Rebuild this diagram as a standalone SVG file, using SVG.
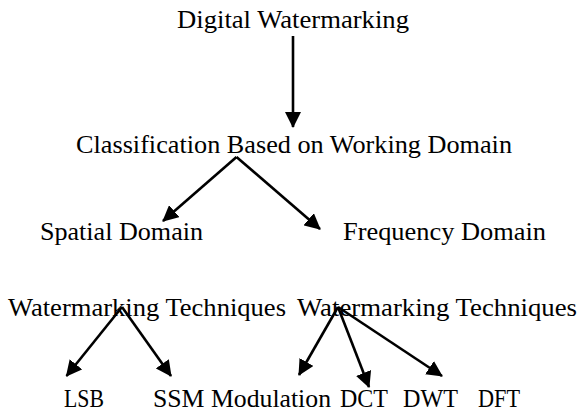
<svg xmlns="http://www.w3.org/2000/svg" width="580" height="414" viewBox="0 0 580 414">
<style>
text { font-family: "Liberation Serif", "Times New Roman", serif; font-size: 25px; fill: #000; }
.c { stroke: #000; stroke-width: 2.6; fill: none; marker-end: url(#ah); }
</style>
<defs>
<marker id="ah" markerUnits="userSpaceOnUse" viewBox="0 0 16 16" refX="15" refY="8" markerWidth="16" markerHeight="16" orient="auto">
<path d="M0,0 L16,8 L0,16 z" fill="#000"/>
</marker>
</defs>
<rect width="580" height="414" fill="#fff"/>
<g id="n-digital"><text x="177" y="28" textLength="232" lengthAdjust="spacingAndGlyphs">Digital Watermarking</text></g>
<g id="n-class"><text x="76" y="153" textLength="436" lengthAdjust="spacingAndGlyphs">Classification Based on Working Domain</text></g>
<g id="n-spatial"><text x="40" y="240" textLength="163" lengthAdjust="spacingAndGlyphs">Spatial Domain</text></g>
<g id="n-freq"><text x="343" y="240" textLength="203" lengthAdjust="spacingAndGlyphs">Frequency Domain</text></g>
<g id="n-tech1"><text x="8" y="316" textLength="278" lengthAdjust="spacingAndGlyphs">Watermarking Techniques</text></g>
<g id="n-tech2"><text x="297" y="316" textLength="280" lengthAdjust="spacingAndGlyphs">Watermarking Techniques</text></g>
<g id="n-lsb"><text x="64" y="407" textLength="40" lengthAdjust="spacingAndGlyphs">LSB</text></g>
<g id="n-ssm"><text x="153" y="407" textLength="178" lengthAdjust="spacingAndGlyphs">SSM Modulation</text></g>
<g id="n-dct"><text x="340" y="407" textLength="48" lengthAdjust="spacingAndGlyphs">DCT</text></g>
<g id="n-dwt"><text x="403" y="407" textLength="55" lengthAdjust="spacingAndGlyphs">DWT</text></g>
<g id="n-dft"><text x="478" y="407" textLength="42" lengthAdjust="spacingAndGlyphs">DFT</text></g>
<g id="connectors">
<line class="c" x1="293" y1="36" x2="293" y2="127"/>
<line class="c" x1="236.5" y1="157" x2="163" y2="221"/>
<line class="c" x1="236.5" y1="157" x2="320" y2="229"/>
<line class="c" x1="122" y1="307" x2="66.5" y2="376"/>
<line class="c" x1="122" y1="307" x2="171" y2="376"/>
<line class="c" x1="338" y1="307" x2="299" y2="375"/>
<line class="c" x1="338" y1="307" x2="369" y2="387"/>
<line class="c" x1="338" y1="307" x2="442" y2="376"/>
</g>
</svg>
